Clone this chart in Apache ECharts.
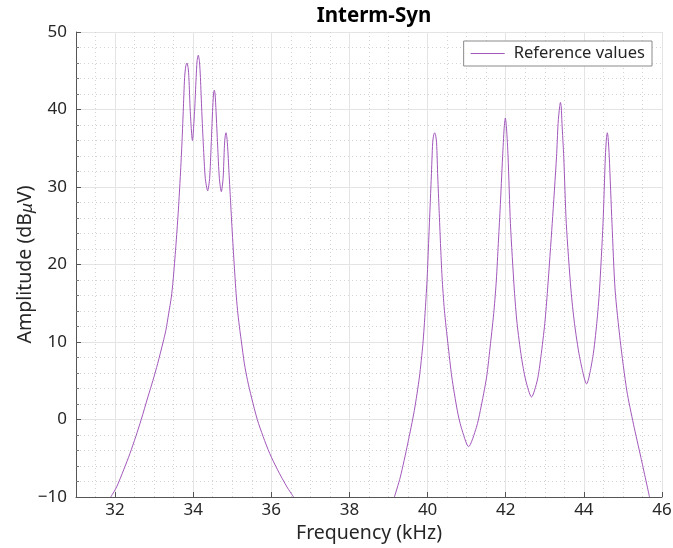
<!DOCTYPE html>
<html>
<head>
<meta charset="utf-8">
<title>Interm-Syn</title>
<script src="https://cdn.jsdelivr.net/npm/echarts@6/dist/echarts.min.js"></script>
<style>
  html, body { margin: 0; padding: 0; background: #fff; }
  #chart { width: 673px; height: 548px; }
</style>
</head>
<body>
<div id="chart"></div>
<script>
// Frequency samples (kHz); null splits the trace where it runs below the axis floor.
const freq = [
  31.89, 32.04, 32.22, 32.38, 32.53, 32.67, 32.84, 32.97, 33.09, 33.23, 33.30, 33.37,
  33.44, 33.485, 33.555, 33.615, 33.665,
  33.71, 33.745, 33.78, 33.81, 33.84, 33.87, 33.89, 33.925, 33.98,
  34.035, 34.075, 34.10, 34.13, 34.16, 34.185, 34.22, 34.26, 34.31, 34.37,
  34.42, 34.46, 34.495, 34.52, 34.54, 34.56, 34.585, 34.625, 34.67, 34.72,
  34.765, 34.80, 34.82, 34.84, 34.86, 34.885, 34.92, 34.955, 34.99,
  35.025, 35.075, 35.105, 35.145, 35.195, 35.235, 35.31, 35.39, 35.49, 35.64, 35.79,
  35.96, 36.16, 36.40, 36.57,
  null,
  39.15, 39.30, 39.49, 39.66, 39.79, 39.88, 39.94, 39.99, 40.025, 40.06, 40.095, 40.13,
  40.155, 40.18, 40.205, 40.23, 40.26, 40.295, 40.33, 40.37, 40.43, 40.52, 40.62,
  40.76, 40.86, 41.05, 41.25, 41.35, 41.51, 41.61, 41.70, 41.76, 41.81, 41.855,
  41.92, 41.96, 41.99, 42.02, 42.06, 42.12, 42.22, 42.29, 42.40, 42.51, 42.66,
  42.81, 42.90, 43.00, 43.07, 43.19, 43.30, 43.34, 43.38, 43.40, 43.42, 43.44,
  43.485, 43.55, 43.67, 43.76, 43.89, 44.07, 44.23, 44.33, 44.40, 44.49, 44.55,
  44.58, 44.60, 44.62, 44.65, 44.72, 44.80, 44.93, 45.10, 45.27, 45.46, 45.68
];

// Amplitude samples (dBµV), one per frequency above.
const amp = [
  -10.0, -8.7, -6.5, -4.4, -2.2, 0.0, 2.9, 5.06, 7.2, 10.0, 11.5, 13.6,
  15.8, 17.9, 22.3, 26.6, 30.9,
  35.4, 39.75, 44.1, 45.6, 46.0, 45.4, 44.1, 39.75, 36.0,
  39.75, 44.1, 46.3, 47.0, 46.2, 44.1, 39.75, 35.4, 31.1, 29.5,
  31.1, 35.4, 39.75, 42.0, 42.5, 42.0, 39.75, 35.4, 31.1, 29.4,
  31.1, 35.4, 36.6, 37.0, 36.5, 34.9, 31.5, 28.3, 25.0,
  22.0, 18.0, 15.8, 13.6, 11.5, 10.0, 7.2, 5.06, 2.9, 0.0, -2.2,
  -4.4, -6.5, -8.7, -10.0,
  null,
  -10.0, -7.46, -3.15, 1.16, 5.47, 9.79, 14.1, 18.4, 22.7, 27.0, 31.3, 35.7,
  36.7, 37.0, 36.7, 35.7, 31.3, 27.0, 22.7, 18.4, 14.1, 9.79, 5.47,
  1.16, -1.0, -3.5, -1.0, 1.16, 5.47, 9.79, 14.1, 18.0, 22.7, 27.0,
  33.9, 37.6, 38.9, 37.6, 33.9, 25.3, 16.7, 12.4, 8.1, 5.1, 2.9,
  5.1, 8.1, 12.4, 16.7, 25.3, 33.9, 38.2, 40.4, 40.9, 40.4, 38.2,
  33.9, 25.3, 16.7, 12.4, 8.1, 4.6, 8.1, 12.4, 16.7, 25.3, 33.9,
  36.4, 37.0, 36.4, 33.9, 25.3, 16.7, 10.2, 3.7, -0.6, -4.9, -10.0
];

// Axis tick values
const freqTicks = [32, 34, 36, 38, 40, 42, 44, 46];
const ampTicks = [-10, 0, 10, 20, 30, 40, 50];

const FONT = '"Noto Sans", "Open Sans", sans-serif';
const TXT = '#262626';
const CURVE = '#a157bb';

const points = freq.map((f, i) => (f === null ? [null, null] : [f, amp[i]]));
const fmtNum = (v) => String(v).replace('-', '\u2212');

const chart = echarts.init(document.getElementById('chart'), null, { renderer: 'canvas' });

chart.setOption({
  animation: false,
  backgroundColor: '#ffffff',
  textStyle: { fontFamily: FONT },
  title: {
    text: 'Interm-Syn',
    left: 369,
    textAlign: 'center',
    top: 1,
    textStyle: { fontFamily: FONT, fontWeight: 'bold', fontSize: 20.5, color: '#000' }
  },
  legend: {
    data: [{ name: 'Reference values', icon: 'rect' }],
    right: 21,
    top: 41,
    padding: [4, 7, 4, 7],
    itemWidth: 34,
    itemHeight: 1,
    itemGap: 0,
    backgroundColor: '#ffffff',
    borderColor: '#8a8a8a',
    borderWidth: 1,
    borderRadius: 0,
    textStyle: { fontFamily: FONT, fontSize: 16.5, color: TXT, padding: [0, 0, 0, 4] }
  },
  grid: { left: 76, right: 11, top: 32, bottom: 51, containLabel: false, outerBoundsMode: 'none' },
  xAxis: [
    {
      // fine dotted grid every 0.5 kHz
      type: 'value', min: 31, max: 46, interval: 0.5,
      axisLine: { show: false }, axisTick: { show: false }, axisLabel: { show: false },
      splitLine: { show: true, lineStyle: { color: '#d4d4d4', type: [1, 3], width: 1 } }
    },
    {
      type: 'value', min: 31, max: 46, position: 'bottom',
      name: 'Frequency (kHz)', nameLocation: 'middle', nameGap: 22,
      nameTextStyle: { fontFamily: FONT, fontSize: 19.5, color: TXT },
      axisLine: { show: true, onZero: false, lineStyle: { color: '#555', width: 1 } },
      axisTick: { show: true, inside: true, length: 5, customValues: freqTicks, lineStyle: { color: '#555' } },
      axisLabel: { show: true, customValues: freqTicks, margin: 5, fontFamily: FONT, fontSize: 17, color: TXT, formatter: fmtNum },
      splitLine: { show: true, lineStyle: { color: '#e4e4e4', width: 1 } }
    }
  ],
  yAxis: {
    type: 'value', min: -10, max: 50, interval: 10,
    name: '{a|Amplitude (dB}{m|μ}{a|V)}',
    nameLocation: 'middle', nameGap: 40, nameRotate: 90, nameMoveOverlap: false,
    nameTextStyle: {
      rich: {
        a: { fontFamily: FONT, fontSize: 19.5, color: TXT },
        m: { fontFamily: FONT, fontSize: 17, fontStyle: 'italic', color: TXT, padding: [5, 0, 0, 0] }
      }
    },
    axisLine: { show: true, onZero: false, lineStyle: { color: '#555', width: 1 } },
    axisTick: { show: true, inside: true, length: 5, customValues: ampTicks, lineStyle: { color: '#555' } },
    minorTick: { show: true, splitNumber: 5, length: 3, lineStyle: { color: '#777' } },
    axisLabel: { margin: 9, customValues: ampTicks, fontFamily: FONT, fontSize: 17, color: TXT, formatter: fmtNum },
    splitLine: { show: true, lineStyle: { color: '#e4e4e4', width: 1 } },
    minorSplitLine: { show: true, lineStyle: { color: '#d4d4d4', type: [1, 3], width: 1 } }
  },
  series: [
    {
      name: 'Reference values',
      type: 'line',
      xAxisIndex: 1,
      data: points,
      showSymbol: false,
      symbol: 'none',
      smooth: 0.25,
      connectNulls: false,
      clip: true,
      lineStyle: { color: CURVE, width: 1 },
      itemStyle: { color: CURVE }
    }
  ]
});
</script>
</body>
</html>
